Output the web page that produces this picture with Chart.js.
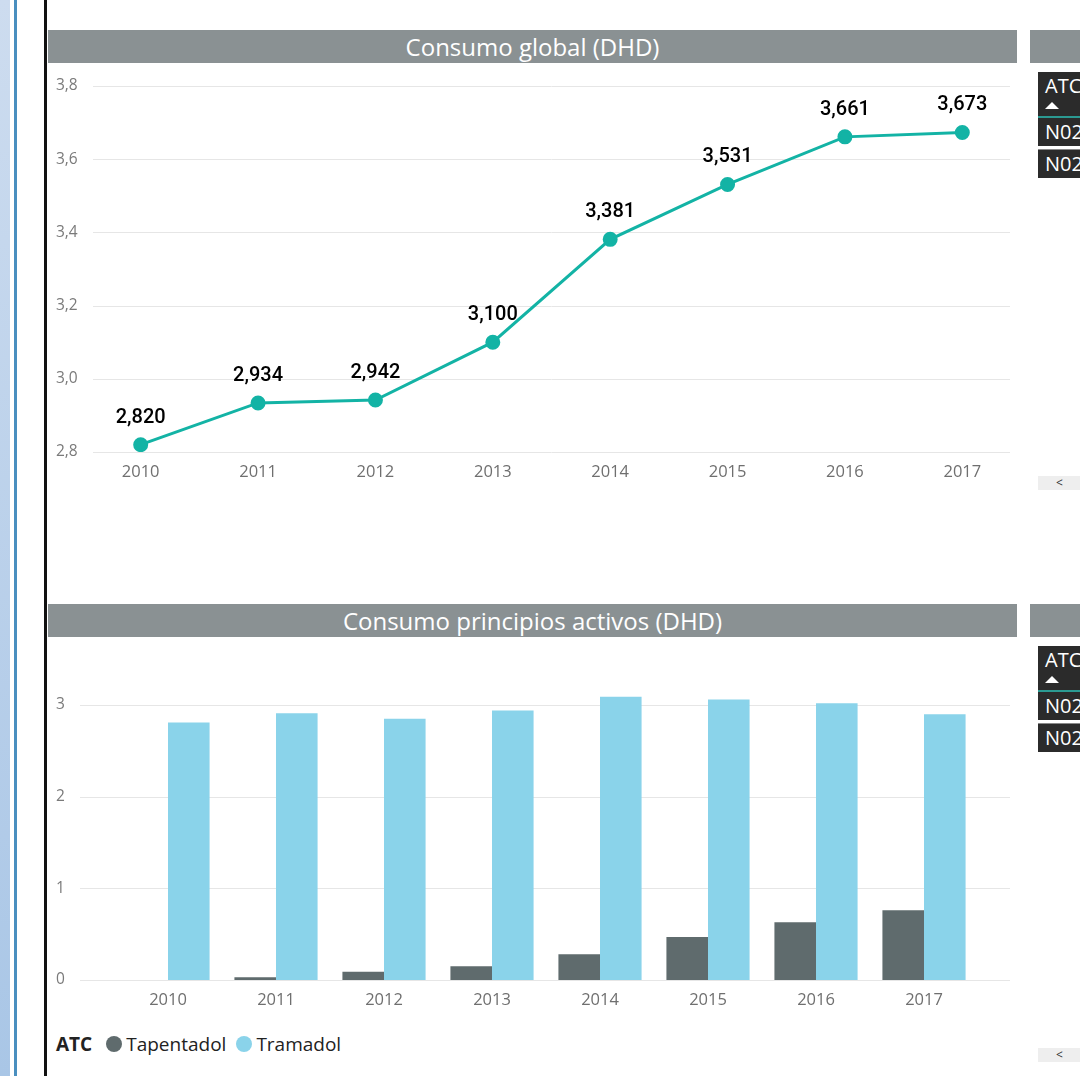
<!DOCTYPE html>
<html>
<head>
<meta charset="utf-8">
<script src="https://cdn.jsdelivr.net/npm/chart.js@4/dist/chart.umd.min.js"></script>
<style>
  html, body { margin:0; padding:0; background:#fff; }
  body { width:1080px; height:1076px; position:relative; overflow:hidden; font-family:"Open Sans","Noto Sans",sans-serif; }
  .abs { position:absolute; }
  .strip { left:0; top:0; width:10px; height:1076px; background:linear-gradient(#cddcef,#a9c6e6); }
  .blueline { left:14px; top:0; width:3px; height:1076px; background:#4a8fbf; }
  .blackline { left:44px; top:0; width:3px; height:1076px; background:#111; }
  .titlebar { left:48px; width:969px; height:33px; background:#8a9193; color:#fff; font-size:24px; line-height:33px; text-align:center; }
  .sidebar { left:1030px; width:50px; height:33px; background:#8a9193; }
  .tbl { left:1038px; width:42px; background:#2b2b2b; color:#fff; font-size:20px; overflow:hidden; white-space:nowrap; }
  .hdr { height:46px; padding-left:7px; line-height:28px; border-bottom:2px solid #2b9a92; box-sizing:border-box; }
  .tri { display:block; width:0; height:0; margin-top:2px; border-left:7px solid transparent; border-right:7px solid transparent; border-bottom:7px solid #fff; }
  .row { height:28px; line-height:28px; padding-left:7px; border-bottom:3px solid #fff; border-top:1px solid #888; }
  .scroll { left:1038px; width:42px; height:14px; background:#eeeeee; color:#333; font-size:12px; line-height:14px; padding-left:18px; box-sizing:border-box; }
  canvas { position:absolute; }
  .legend { left:56px; top:1030px; font-size:19px; color:#222; display:flex; align-items:center; height:28px; }
  .legend b { margin-right:14px; }
  .dot { width:16px; height:16px; border-radius:50%; display:inline-block; margin-right:4px; }
</style>
</head>
<body>
<div class="abs strip"></div>
<div class="abs blueline"></div>
<div class="abs blackline"></div>

<div class="abs titlebar" style="top:30px">Consumo global (DHD)</div>
<div class="abs sidebar" style="top:30px"></div>
<div class="abs tbl" style="top:72px">
  <div class="hdr">ATC<span class="tri"></span></div>
  <div class="row" style="border-top:none">N02</div>
  <div class="row">N02</div>
</div>
<div class="abs scroll" style="top:476px">&lt;</div>

<div class="abs titlebar" style="top:604px">Consumo principios activos (DHD)</div>
<div class="abs sidebar" style="top:604px"></div>
<div class="abs tbl" style="top:646px">
  <div class="hdr">ATC<span class="tri"></span></div>
  <div class="row" style="border-top:none">N02</div>
  <div class="row">N02</div>
</div>
<div class="abs scroll" style="top:1048px">&lt;</div>

<canvas id="lineChart" style="left:48px;top:64px;width:982px;height:430px"></canvas>
<canvas id="barChart" style="left:48px;top:640px;width:982px;height:385px"></canvas>

<div class="abs legend">
  <b>ATC</b>
  <span class="dot" style="background:#5f6b6d"></span><span style="margin-right:10px">Tapentadol</span>
  <span class="dot" style="background:#8ad3ea"></span><span>Tramadol</span>
</div>

<script>
// data
const years = ['2010','2011','2012','2013','2014','2015','2016','2017'];
const globalDHD = [2.820, 2.934, 2.942, 3.100, 3.381, 3.531, 3.661, 3.673];
const tapentadol = [0, 0.03, 0.09, 0.15, 0.28, 0.47, 0.63, 0.76];
const tramadol = [2.81, 2.91, 2.85, 2.94, 3.09, 3.06, 3.02, 2.90];
const lineTicks = [2.8, 3.0, 3.2, 3.4, 3.6, 3.8];
const barTicks = [0, 1, 2, 3];

const axisFont = { family:'"Open Sans","Noto Sans",sans-serif', size:16.5 };
const comma = (v, d) => v.toFixed(d).replace('.', ',');

// horizontal gridlines drawn wider/narrower than the chart area (Power BI style)
// x0/x1 are canvas coordinates
function gridPlugin(x0, x1){
  return {
    id:'wideGrid',
    beforeDatasetsDraw(chart){
      const c = chart.ctx, y = chart.scales.y;
      c.save();
      c.strokeStyle = '#e6e6e6';
      c.lineWidth = 1;
      y.ticks.forEach(t => {
        const py = Math.round(y.getPixelForValue(t.value)) + 0.5;
        c.beginPath(); c.moveTo(x0, py); c.lineTo(x1, py); c.stroke();
      });
      c.restore();
    }
  };
}

const valueLabels = {
  id:'valueLabels',
  afterDatasetsDraw(chart){
    const c = chart.ctx;
    const meta = chart.getDatasetMeta(0);
    c.save();
    c.font = '500 20px Roboto, "DejaVu Sans", sans-serif';
    c.fillStyle = '#000';
    c.textAlign = 'center';
    c.textBaseline = 'middle';
    meta.data.forEach((p, i) => c.fillText(comma(globalDHD[i], 3), p.x, p.y - 27));
    c.restore();
  }
};

new Chart(document.getElementById('lineChart'), {
  type:'line',
  data:{ labels:years, datasets:[{
    data:globalDHD, borderColor:'#13b3a5', backgroundColor:'#13b3a5',
    borderWidth:3, pointRadius:6, pointHoverRadius:6, tension:0
  }]},
  options:{
    responsive:false, animation:false,
    layout:{ padding:{ left:8, right:8, top:22, bottom:0 } },
    plugins:{ legend:{display:false}, tooltip:{enabled:false} },
    scales:{
      x:{ offset:true, grid:{display:false, drawTicks:false}, border:{display:false},
          ticks:{ color:'#6f6f6f', font:axisFont, padding:10 },
          afterFit(s){ s.height = 42; } },
      y:{ min:2.8, max:3.8, grid:{display:false}, border:{display:false},
          afterBuildTicks(s){ s.ticks = lineTicks.map(v => ({value:v})); },
          ticks:{ color:'#7a7a7a', font:{...axisFont, size:15.5}, crossAlign:'far', padding:0,
                  callback:v => comma(v, 1) },
          afterFit(s){ s.width = 26; } }
    }
  },
  plugins:[gridPlugin(45, 962), valueLabels]
});

new Chart(document.getElementById('barChart'), {
  type:'bar',
  data:{ labels:years, datasets:[
    { label:'Tapentadol', data:tapentadol, backgroundColor:'#5f6b6d' },
    { label:'Tramadol', data:tramadol, backgroundColor:'#8ad3ea' }
  ]},
  options:{
    responsive:false, animation:false,
    datasets:{ bar:{ barPercentage:1, categoryPercentage:0.77 } },
    layout:{ padding:{ left:8, right:52, top:10, bottom:0 } },
    plugins:{ legend:{display:false}, tooltip:{enabled:false} },
    scales:{
      x:{ grid:{display:false, drawTicks:false}, border:{display:false},
          ticks:{ color:'#6f6f6f', font:axisFont, padding:10 },
          afterFit(s){ s.height = 45; } },
      y:{ min:0, max:3.6, grid:{display:false}, border:{display:false},
          afterBuildTicks(s){ s.ticks = barTicks.map(v => ({value:v})); },
          ticks:{ color:'#7a7a7a', font:{...axisFont, size:15.5}, crossAlign:'far', padding:0 },
          afterFit(s){ s.width = 58; } }
    }
  },
  plugins:[gridPlugin(32, 962)]
});
</script>
</body>
</html>
